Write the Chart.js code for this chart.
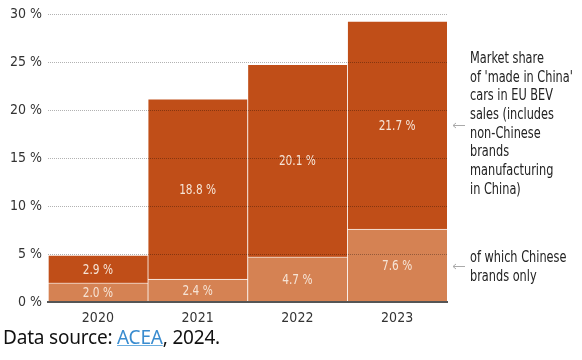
<!DOCTYPE html>
<html>
<head>
<meta charset="utf-8">
<script src="https://cdn.jsdelivr.net/npm/chart.js@4.4.1/dist/chart.umd.min.js"></script>
<style>
  html, body { margin: 0; padding: 0; background: #fff; }
  #wrap { position: relative; width: 582px; height: 360px; }
  #chart { position: absolute; left: 0; top: 0; }
  #source {
    position: absolute; left: 3px; top: 324px;
    font-family: "Noto Sans", "Open Sans", sans-serif; font-size: 19px; color: #111;
    letter-spacing: -0.2px;
  }
  #source a { color: #3a8ccf; text-decoration: underline; text-decoration-color: #6aaee0; }
</style>
</head>
<body>
<div id="wrap">
  <canvas id="chart" width="582" height="360"></canvas>
  <div id="source">Data source: <a>ACEA</a>, 2024.</div>
</div>
<script>
const years = ['2020', '2021', '2022', '2023'];
const chineseBrands = [2.0, 2.4, 4.7, 7.6];
const madeInChinaRest = [2.9, 18.8, 20.1, 21.7];
const yTicks = [0, 5, 10, 15, 20, 25, 30];

const topNote = ['Market share', "of 'made in China'", 'cars in EU BEV', 'sales (includes',
  'non-Chinese', 'brands', 'manufacturing', 'in China)'];
const bottomNote = ['of which Chinese', 'brands only'];

const FONT = '"DejaVu Sans Condensed", "Liberation Sans Narrow", sans-serif';

// draw text squeezed horizontally, the original uses a narrow face
function narrowText(ctx, text, x, y, squeeze) {
  ctx.save();
  ctx.translate(x, y);
  ctx.scale(squeeze, 1);
  ctx.fillText(text, 0, 0);
  ctx.restore();
}

// value labels inside each segment
const valueLabels = {
  id: 'valueLabels',
  afterDatasetsDraw(chart) {
    const ctx = chart.ctx;
    ctx.save();
    ctx.font = '14px ' + FONT;
    ctx.fillStyle = '#f6e4d6';
    ctx.textAlign = 'center';
    ctx.textBaseline = 'middle';
    chart.data.datasets.forEach((ds, i) => {
      chart.getDatasetMeta(i).data.forEach((bar, j) => {
        const mid = (bar.y + bar.base) / 2;
        narrowText(ctx, ds.data[j].toFixed(1) + ' %', bar.x, mid + 1, 0.84);
      });
    });
    ctx.restore();
  }
};

// right-hand notes with small arrows
const sideNotes = {
  id: 'sideNotes',
  afterDraw(chart) {
    const ctx = chart.ctx;
    const area = chart.chartArea;
    ctx.save();
    ctx.font = '15px ' + FONT;
    ctx.fillStyle = '#222';
    ctx.textAlign = 'left';
    ctx.textBaseline = 'middle';
    const x = area.right + 23;
    topNote.forEach((t, i) => narrowText(ctx, t, x, 59 + i * 18.7, 0.84));
    bottomNote.forEach((t, i) => narrowText(ctx, t, x, 258 + i * 19, 0.84));

    ctx.strokeStyle = '#aaa';
    ctx.lineWidth = 1;
    const arrow = (ay) => {
      ctx.beginPath();
      ctx.moveTo(area.right + 18, ay);
      ctx.lineTo(area.right + 6, ay);
      ctx.moveTo(area.right + 9, ay - 2.5);
      ctx.lineTo(area.right + 6, ay);
      ctx.lineTo(area.right + 9, ay + 2.5);
      ctx.stroke();
    };
    arrow(125.5);
    arrow(266.5);
    ctx.restore();
  }
};

new Chart(document.getElementById('chart'), {
  type: 'bar',
  data: {
    labels: years,
    datasets: [{
      label: 'Chinese brands',
      data: chineseBrands,
      backgroundColor: '#d58253',
      borderColor: 'rgba(255,255,255,0.55)',
      borderWidth: { top: 1, left: 1, right: 0, bottom: 0 },
      borderSkipped: false,
      barPercentage: 1,
      categoryPercentage: 1
    }, {
      label: "Made in China",
      data: madeInChinaRest,
      backgroundColor: '#c04e18',
      borderColor: 'rgba(255,255,255,0.55)',
      borderWidth: { top: 1, left: 1, right: 0, bottom: 0 },
      borderSkipped: false,
      barPercentage: 1,
      categoryPercentage: 1
    }]
  },
  options: {
    responsive: false,
    animation: false,
    layout: { padding: { left: 0, right: 135, top: 7, bottom: 0 } },
    plugins: { legend: { display: false }, tooltip: { enabled: false } },
    scales: {
      x: {
        stacked: true,
        grid: { display: false },
        border: { color: '#555', width: 2, z: 2 },
        ticks: { color: '#333', font: { family: FONT, size: 14 }, padding: 0 },
        afterFit(scale) { scale.height = 58; }
      },
      y: {
        stacked: true,
        min: 0,
        max: 30,
        afterBuildTicks(scale) { scale.ticks = yTicks.map(v => ({ value: v })); },
        afterFit(scale) { scale.width = 48; },
        grid: {
          color: 'rgba(0,0,0,0.3)',
          lineWidth: 1,
          drawTicks: false,
          z: 1
        },
        border: { display: false, dash: [1, 1] },
        ticks: {
          color: '#333',
          padding: 6,
          font: { family: FONT, size: 14 },
          callback: v => v + ' %'
        }
      }
    }
  },
  plugins: [valueLabels, sideNotes]
});
</script>
</body>
</html>
